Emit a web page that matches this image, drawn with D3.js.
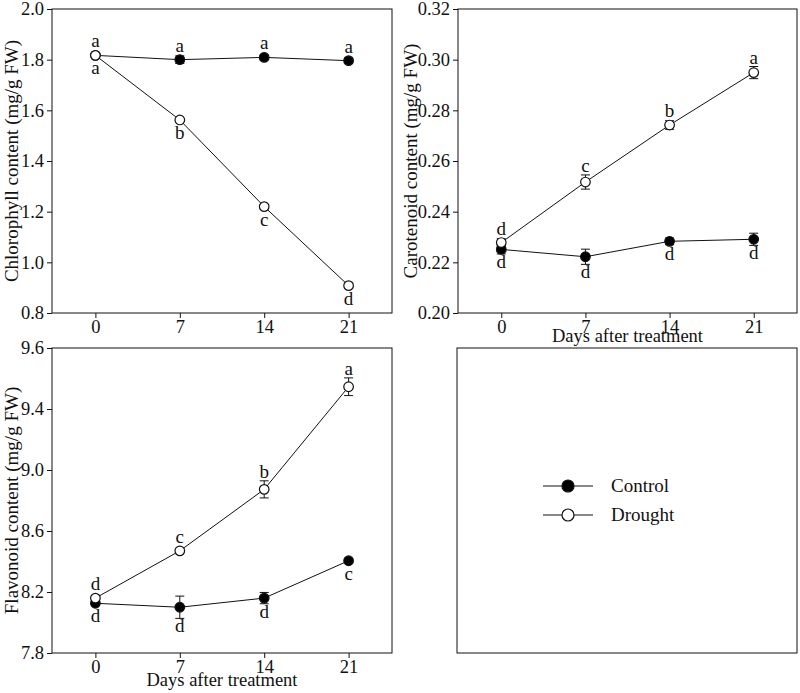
<!DOCTYPE html>
<html><head><meta charset="utf-8">
<script src="https://cdn.jsdelivr.net/npm/d3@7"></script>
<style>body{margin:0;background:#fff}svg{display:block}</style>
</head><body><svg id="c" width="800" height="693"></svg>
<script>
const days = [0, 7, 14, 21];
const seriesNames = ["Control", "Drought"];

const chlControl = [1.817, 1.800, 1.809, 1.796];
const chlControlErr = [0.006, 0.015, 0.008, 0.010];
const chlDrought = [1.817, 1.562, 1.220, 0.908];
const chlDroughtErr = [0.006, 0.006, 0.006, 0.008];
const chlControlLetters = ["a", "a", "a", "a"];
const chlDroughtLetters = ["a", "b", "c", "d"];
const chlTicks = [0.8, 1.0, 1.2, 1.4, 1.6, 1.8, 2.0];
const chlTickLabels = ["0.8", "1.0", "1.2", "1.4", "1.6", "1.8", "2.0"];

const carControl = [0.2251, 0.2222, 0.2283, 0.2291];
const carControlErr = [0.0018, 0.0030, 0.0013, 0.0024];
const carDrought = [0.2278, 0.2517, 0.2742, 0.2949];
const carDroughtErr = [0.0015, 0.0028, 0.0017, 0.0024];
const carControlLetters = ["d", "d", "d", "d"];
const carDroughtLetters = ["d", "c", "b", "a"];
const carTicks = [0.20, 0.22, 0.24, 0.26, 0.28, 0.30, 0.32];
const carTickLabels = ["0.20", "0.22", "0.24", "0.26", "0.28", "0.30", "0.32"];

const flaControl = [8.126, 8.100, 8.160, 8.405];
const flaControlErr = [0.012, 0.073, 0.037, 0.012];
const flaDrought = [8.160, 8.470, 8.873, 9.546];
const flaDroughtErr = [0.012, 0.012, 0.056, 0.058];
const flaControlLetters = ["d", "d", "d", "c"];
const flaDroughtLetters = ["d", "c", "b", "a"];
const flaTicks = [7.8, 8.2, 8.6, 9.0, 9.4, 9.8];
const flaTickLabels = ["7.8", "8.2", "8.6", "9.0", "9.4", "9.6"];

const xLabel = "Days after treatment";

const panels = [
  {x0: 52, x1: 392, y0: 9, y1: 313, dom: [0.8, 2.0], ticks: chlTicks, tickLabels: chlTickLabels,
   ctrl: chlControl, ctrlErr: chlControlErr, ctrlLet: chlControlLetters,
   dr: chlDrought, drErr: chlDroughtErr, drLet: chlDroughtLetters,
   ylabel: "Chlorophyll content (mg/g FW)", ylx: 18, xlab: null,
   ctrlAbove: true},
  {x0: 458, x1: 797, y0: 9, y1: 313, dom: [0.20, 0.32], ticks: carTicks, tickLabels: carTickLabels,
   ctrl: carControl, ctrlErr: carControlErr, ctrlLet: carControlLetters,
   dr: carDrought, drErr: carDroughtErr, drLet: carDroughtLetters,
   ylabel: "Carotenoid content (mg/g FW)", ylx: 417, xlab: 342,
   ctrlAbove: false},
  {x0: 52, x1: 392, y0: 348, y1: 653, dom: [7.8, 9.8], ticks: flaTicks, tickLabels: flaTickLabels,
   ctrl: flaControl, ctrlErr: flaControlErr, ctrlLet: flaControlLetters,
   dr: flaDrought, drErr: flaDroughtErr, drLet: flaDroughtLetters,
   ylabel: "Flavonoid content (mg/g FW)", ylx: 18, xlab: 686,
   ctrlAbove: false}
];

const svg = d3.select("#c");
const font = "'Liberation Serif', 'Times New Roman', serif";
const col = "#111";

panels.forEach(p => {
  const x = d3.scaleLinear().domain([-3.6, 24.6]).range([p.x0, p.x1]);
  const y = d3.scaleLinear().domain(p.dom).range([p.y1, p.y0]);
  const g = svg.append("g");

  const ax = g.append("g").attr("transform", `translate(0,${p.y1})`)
    .call(d3.axisBottom(x).tickValues(days).tickSize(5).tickPadding(2).tickFormat(d3.format("d")));
  const ay = g.append("g").attr("transform", `translate(${p.x0},0)`)
    .call(d3.axisLeft(y).tickValues(p.ticks).tickSize(5).tickPadding(3)
      .tickFormat((d, i) => p.tickLabels[i]));
  [ax, ay].forEach(a => {
    a.select(".domain").remove();
    a.selectAll("line").attr("stroke", col);
    a.selectAll("text").attr("font-family", font).attr("font-size", 18.5).attr("fill", col);
  });
  g.append("rect").attr("x", p.x0).attr("y", p.y0).attr("width", p.x1 - p.x0).attr("height", p.y1 - p.y0)
    .attr("fill", "none").attr("stroke", col).attr("stroke-width", 1);

  g.append("text").attr("transform", `translate(${p.ylx},${(p.y0 + p.y1) / 2}) rotate(-90)`)
    .attr("text-anchor", "middle").attr("font-family", font).attr("font-size", 19).attr("fill", col)
    .text(p.ylabel);
  if (p.xlab) {
    g.append("text").attr("x", (p.x0 + p.x1) / 2).attr("y", p.xlab).attr("text-anchor", "middle")
      .attr("font-family", font).attr("font-size", 18.5).attr("fill", col).text(xLabel);
  }

  const line = d3.line().x((d, i) => x(days[i])).y(d => y(d));
  const series = [
    {vals: p.ctrl, err: p.ctrlErr, let: p.ctrlLet, fill: "#000", above: p.ctrlAbove},
    {vals: p.dr, err: p.drErr, let: p.drLet, fill: "#fff", above: !p.ctrlAbove}
  ];
  series.forEach(s => {
    g.append("path").datum(s.vals).attr("d", line).attr("fill", "none").attr("stroke", col).attr("stroke-width", 1);
  });
  series.forEach(s => {
    const eg = g.append("g");
    s.vals.forEach((v, i) => {
      const cx = x(days[i]);
      const yt = y(v + s.err[i]), yb = y(v - s.err[i]);
      eg.append("line").attr("x1", cx).attr("x2", cx).attr("y1", yt).attr("y2", yb).attr("stroke", col);
      [yt, yb].forEach(yy => eg.append("line").attr("x1", cx - 4.5).attr("x2", cx + 4.5)
        .attr("y1", yy).attr("y2", yy).attr("stroke", col));
      eg.append("circle").attr("cx", cx).attr("cy", y(v)).attr("r", 4.8)
        .attr("fill", s.fill).attr("stroke", col).attr("stroke-width", 1.2);
      const ly = s.above ? Math.min(yt, y(v) - 5) - 3 : Math.max(yb, y(v) + 5) + 14;
      eg.append("text").attr("x", cx).attr("y", ly).attr("text-anchor", "middle")
        .attr("font-family", font).attr("font-size", 19).attr("fill", col).text(s.let[i]);
    });
  });
});

const lg = svg.append("g");
lg.append("rect").attr("x", 457).attr("y", 348).attr("width", 340).attr("height", 305)
  .attr("fill", "none").attr("stroke", col).attr("stroke-width", 1);
const legendFill = ["#000", "#fff"];
const legendY = d3.scalePoint().domain(seriesNames).range([486, 515]);
seriesNames.forEach((n, i) => {
  const yy = legendY(n);
  lg.append("line").attr("x1", 543).attr("x2", 593).attr("y1", yy).attr("y2", yy).attr("stroke", col);
  lg.append("circle").attr("cx", 568).attr("cy", yy).attr("r", 6).attr("fill", legendFill[i])
    .attr("stroke", col).attr("stroke-width", 1.2);
  lg.append("text").attr("x", 611).attr("y", yy + 6).attr("font-family", font).attr("font-size", 19)
    .attr("fill", col).text(n);
});
</script></body></html>
